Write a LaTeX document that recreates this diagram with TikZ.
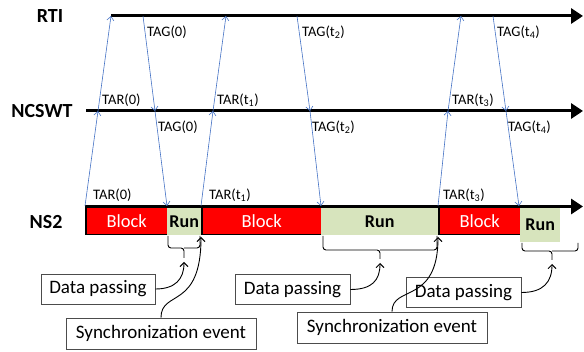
\documentclass[tikz,border=0pt]{standalone}
\usepackage{fontspec}
\setmainfont{Carlito}
\usetikzlibrary{arrows.meta}
\definecolor{msgblue}{HTML}{4472C4}
\definecolor{runfill}{HTML}{D7E4BD}

\begin{document}
\begin{tikzpicture}[x=1pt,y=-1pt,
    lane/.style={font=\fontsize{20}{22}\selectfont\bfseries},
    axis/.style={line width=3pt,-{Triangle[length=12pt,width=15pt]}},
    msg/.style={draw=msgblue,line width=0.6pt,-{Straight Barb[length=4pt,width=7pt]}},
    tag/.style={font=\fontsize{14.5}{16}\selectfont,inner sep=0pt,anchor=west},
    blockbox/.style={draw,line width=1.5pt,fill=red,text=white,minimum height=27,inner sep=0pt,anchor=north west,font=\fontsize{18.5}{20}\selectfont},
    runbox/.style={fill=runfill,minimum height=27,inner sep=0pt,anchor=north west,font=\fontsize{18}{20}\selectfont\bfseries},
    note/.style={draw=black!70,line width=0.8pt,minimum height=30,inner sep=0pt,font=\fontsize{19}{21}\selectfont},
    brace/.style={line width=0.9pt,rounded corners=3pt},
    pointer/.style={line width=0.9pt,-{Straight Barb[length=4pt,width=8pt]}}]
\useasboundingbox (0,0) rectangle (584,352);
\node[lane] (rti) at (50,16) {RTI}; % lane names
\node[lane] (ncswt) at (42,111) {NCSWT};
\node[lane] (ns2) at (46,222) {NS2};
\draw[axis] (111,16) -- (583,16); % RTI
\draw[axis] (86,111) -- (583,111); % NCSWT
\node[blockbox,minimum width=82] (blk1) at (85,207) {Block}; % NS2 states
\node[blockbox,minimum width=120] (blk2) at (201,207) {Block};
\node[blockbox,minimum width=82] (blk3) at (438,207) {Block};
\node[runbox,minimum width=34] (run1) at (167,208) {Run};
\node[runbox,minimum width=117] (run2) at (321,208) {Run};
\node[runbox,minimum width=40,minimum height=34] (run3) at (520,208) {Run};
\draw[axis] (85,206.5) -- (583,206.5); % NS2
\coordinate (tar0s) at (85,206); \coordinate (tar0n) at (98,111); \coordinate (tar0r) at (111,16);
\coordinate (tag0r) at (143,16); \coordinate (tag0n) at (155,111); \coordinate (tag0s) at (167,206);
\coordinate (tar1s) at (201,206); \coordinate (tar1n) at (213,111); \coordinate (tar1r) at (226,16);
\coordinate (tag2r) at (297,16); \coordinate (tag2n) at (310,111); \coordinate (tag2s) at (321,206);
\coordinate (tar3s) at (438,206); \coordinate (tar3n) at (448,111); \coordinate (tar3r) at (461,16);
\coordinate (tag4r) at (493,16); \coordinate (tag4n) at (506,111); \coordinate (tag4s) at (519,206);
\draw[msg] (tar0s) -- (tar0n); \draw[msg] (tar0n) -- (tar0r); % TAR(0)
\draw[msg] (tag0r) -- (tag0n); \draw[msg] (tag0n) -- (tag0s); % TAG(0)
\draw[msg] (tar1s) -- (tar1n); \draw[msg] (tar1n) -- (tar1r); % TAR(t1)
\draw[msg] (tag2r) -- (tag2n); \draw[msg] (tag2n) -- (tag2s); % TAG(t2)
\draw[msg] (tar3s) -- (tar3n); \draw[msg] (tar3n) -- (tar3r); % TAR(t3)
\draw[msg] (tag4r) -- (tag4n); \draw[msg] (tag4n) -- (tag4s); % TAG(t4)
\node[tag] (ltar0s) at (93,195) {TAR(0)};
\node[tag] (ltar0n) at (102,100) {TAR(0)};
\node[tag] (ltag0r) at (147,32) {TAG(0)};
\node[tag] (ltag0n) at (158,127) {TAG(0)};
\node[tag] (ltar1s) at (209,195) {TAR(t\textsubscript{1})};
\node[tag] (ltar1n) at (217,100) {TAR(t\textsubscript{1})};
\node[tag] (ltag2r) at (302,32) {TAG(t\textsubscript{2})};
\node[tag] (ltag2n) at (312,127) {TAG(t\textsubscript{2})};
\node[tag] (ltar3s) at (443,195) {TAR(t\textsubscript{3})};
\node[tag] (ltar3n) at (452,100) {TAR(t\textsubscript{3})};
\node[tag] (ltag4r) at (497,32) {TAG(t\textsubscript{4})};
\node[tag] (ltag4n) at (508,127) {TAG(t\textsubscript{4})};
\draw[brace] (168,236) -- (168,248) -- (184,248) -- (184,258) (184,248) -- (200,248) -- (200,236); % braces
\draw[brace] (323,236) -- (323,250) -- (380,250) -- (380,259) (380,250) -- (437,250) -- (437,236);
\draw[brace] (522,243) -- (522,251) -- (552,251) -- (552,260) (552,251) -- (578,251) -- (578,243);
\node[note,minimum width=114] (pass1) at (98,289) {Data passing};
\node[note,minimum width=115] (pass2) at (292.5,289.5) {Data passing};
\node[note,minimum width=115] (pass3) at (463.5,292.5) {Data passing};
\node[note,minimum width=190,minimum height=31] (sync1) at (161,333.5) {Synchronization event};
\node[note,minimum width=190,minimum height=31] (sync2) at (392,327.5) {Synchronization event};
\coordinate (tip1) at (184,262); \coordinate (tip2) at (380,263); \coordinate (tip3) at (552,264);
\coordinate (edge1) at (201,237); \coordinate (edge2) at (438,237);
\draw[pointer] (pass1.east) .. controls +(20,0) and +(0,17) .. (tip1);
\draw[pointer] (pass2.east) .. controls +(22,0) and +(0,17) .. (tip2);
\draw[pointer] (pass3.east) .. controls +(22,0) and +(0,18) .. (tip3);
\draw[pointer] (sync1.north) .. controls +(0,-28) and +(0,73) .. (edge1);
\draw[pointer] (sync2.north) .. controls +(0,-27) and +(0,68) .. (edge2);
\end{tikzpicture}
\end{document}
